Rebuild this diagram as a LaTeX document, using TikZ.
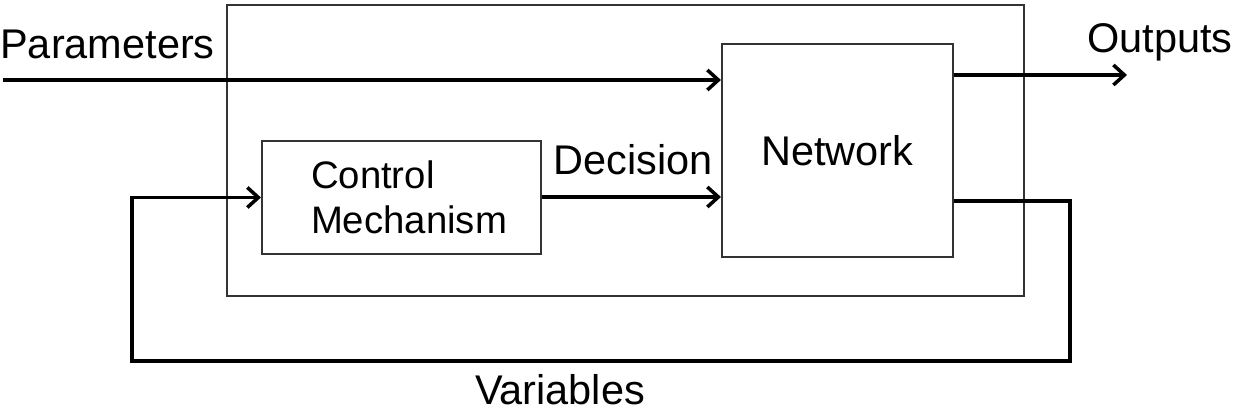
\documentclass[tikz,border=0pt]{standalone}
\usepackage{fontspec}
\setmainfont{Liberation Sans}
\usepackage{tikz}
\usetikzlibrary{arrows.meta,positioning,calc}
\tikzset{
    blockbox/.style={
        rectangle,                 % caja simple
        draw=black!80,             % borde gris oscuro
        line width=0.6pt,          % borde fino
        inner sep=0pt,
        align=center
    },
    arrow/.style={
        -{Straight Barb[length=1.1mm,width=2mm]}, % punta abierta
        line width=1pt
    },
    feedline/.style={line width=1pt} % lineas de conexion sin punta
}

\begin{document}
\begin{tikzpicture}[
				every node/.style={font=\fontsize{11.8}{14}\selectfont}
			]
			\useasboundingbox (0,0) rectangle (12.42,4.13);

			\node[blockbox, minimum width=7.97cm, minimum height=2.91cm] (system) at (6.255,2.625) {};
			\node[blockbox, minimum width=2.31cm, minimum height=2.13cm] (network) at (8.375,2.625) {Network};
			\node[blockbox, minimum width=2.79cm, minimum height=1.13cm, align=left,
				font=\fontsize{10.9}{12.8}\selectfont] (control) at (4.015,2.155)
				{\hspace*{0.15cm}Control\\\hspace*{0.15cm}Mechanism};

			\coordinate (pin) at (0.03,3.33);
			\coordinate (pout) at (11.27,3.38);
			\coordinate (fbr) at (10.70,0.52);
			\coordinate (fbl) at (1.32,0.52);

			\node[anchor=base] (param) at (1.075,3.54) {Parameters};
			\node[anchor=base] (outs) at (11.60,3.60) {Outputs};
			\node[anchor=base] (vars) at (5.60,0.08) {Variables};
			\node[anchor=base] (dec) at (6.33,2.38) {Decision};

			\draw[arrow] (pin) -- (pin -| network.west);
			\draw[arrow] (control.east |- 0,2.16) -- (network.west |- 0,2.16);
			\draw[arrow] (network.east |- pout) -- (pout);
			\draw[arrow] (network.east |- 0,2.12) -| (fbr) -- (fbl) |- (control.west);
		\end{tikzpicture}
\end{document}
